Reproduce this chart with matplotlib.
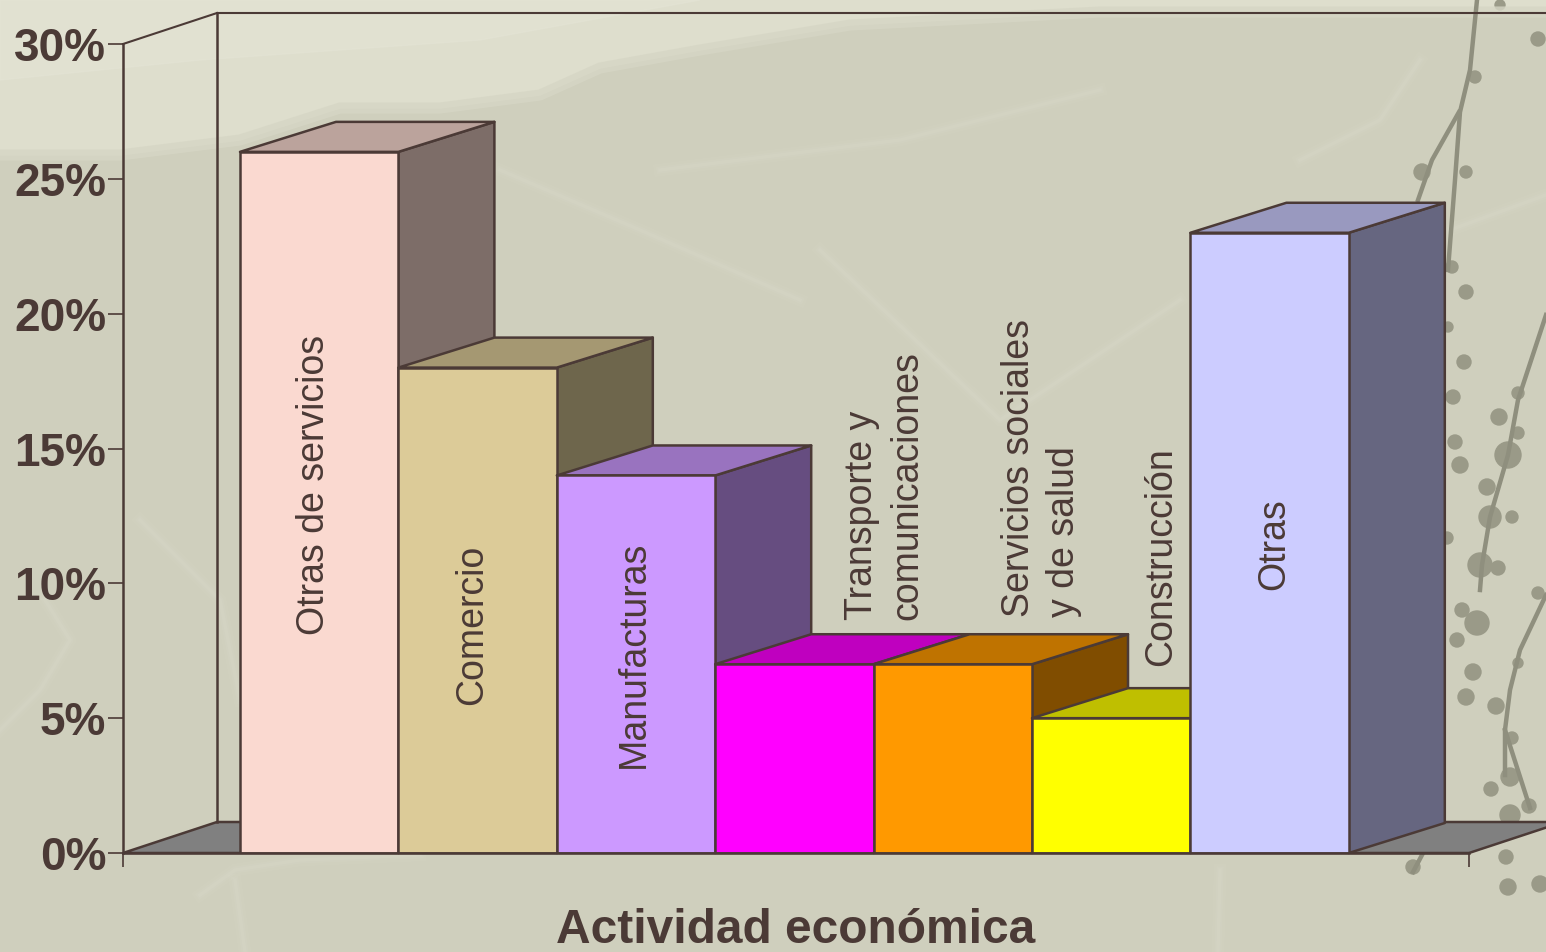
import matplotlib

matplotlib.use("Agg")
import matplotlib.pyplot as plt
from matplotlib.colors import to_rgb
from matplotlib.patches import Polygon

plt.rcParams["font.family"] = ["Liberation Sans", "DejaVu Sans"]

categories = [
    "Otras de servicios",
    "Comercio",
    "Manufacturas",
    "Transporte y\ncomunicaciones",
    "Servicios sociales\ny de salud",
    "Construcción",
    "Otras",
]
shares = [26, 18, 14, 7, 7, 5, 23]
bar_colors = ["#FAD9D0", "#DCCB98", "#CC99FF", "#FF00FF", "#FF9900", "#FFFF00", "#CCCCFF"]
y_ticks = [0, 5, 10, 15, 20, 25, 30]
y_tick_labels = ["0%", "5%", "10%", "15%", "20%", "25%", "30%"]
x_title = "Actividad económica"

INK = "#4B3A36"
W, H = 1546, 952

# layout, in pixels of the reference
PLOT_LEFT, PLOT_RIGHT = 123, 1469
PLOT_TOP, PLOT_BOTTOM = 44, 853
FIRST_BAR = 240
BAR_PX = 158.4
PCT_PX = (PLOT_BOTTOM - PLOT_TOP) / 30
DEPTH_X = 96 / BAR_PX
DEPTH_Y = 30 / PCT_PX
WALL_X = 94 / BAR_PX
WALL_Y = 31 / PCT_PX

# label anchors: horizontal shift in bars from the bar centre, lower end in percent
label_dx = [-0.03, -0.035, -0.015, 0.57, 0.56, 0.315, 0.03]
label_bottom = [8.1, 5.5, 3.15, 8.65, 8.76, 6.93, 9.75]


def shade(color, factor):
    return tuple(c * factor for c in to_rgb(color))


fig = plt.figure(figsize=(W / 100, H / 100), dpi=100)

# paper background, only decoration, drawn in pixels
bg = fig.add_axes([0, 0, 1, 1], zorder=0)
bg.set_xlim(0, W)
bg.set_ylim(H, 0)
bg.axis("off")
bg.add_patch(Polygon([(0, 0), (W, 0), (W, H), (0, H)], color="#CFCFBD"))
ridge = [(0, 155), (120, 155), (240, 140), (340, 108), (440, 108), (540, 95), (600, 68),
         (700, 50), (850, 25), (1100, 12), (1546, 12)]
bg.add_patch(Polygon([(0, 0), (1546, 0)] + ridge[::-1], color="#DEDECD"))
bg.add_patch(Polygon([(0, 0), (700, 0), (480, 40), (200, 60), (0, 80)], color="#E4E4D5", alpha=0.6))
bg.plot([p[0] for p in ridge], [p[1] for p in ridge], color="#D6D6C5", lw=8, alpha=0.8)

streaks = [
    [(0, 730), (40, 690), (70, 640), (45, 600)],
    [(200, 895), (235, 870), (300, 860), (420, 855)],
    [(235, 880), (245, 952)],
    [(500, 170), (640, 230), (800, 300)],
    [(660, 170), (900, 140), (1100, 90)],
    [(1300, 160), (1380, 120), (1420, 60)],
    [(1450, 230), (1546, 195)],
    [(1220, 870), (1218, 952)],
    [(820, 250), (1000, 420), (1180, 300)],
    [(140, 520), (220, 600), (240, 700)],
]
for s in streaks:
    for lw, alpha in [(9, 0.08), (5, 0.1), (2.5, 0.12)]:
        bg.plot([p[0] for p in s], [p[1] for p in s], color="#E3E3D6", lw=lw, alpha=alpha)

stems = [
    [(1477, 0), (1470, 70), (1460, 112), (1455, 180), (1448, 270)],
    [(1459, 112), (1432, 160), (1418, 200)],
    [(1546, 315), (1518, 400), (1508, 455), (1490, 517), (1482, 565), (1480, 590)],
    [(1546, 595), (1520, 650), (1510, 690), (1505, 730), (1505, 775)],
    [(1505, 730), (1530, 808)],
    [(1422, 855), (1413, 872)],
]
for s in stems:
    bg.plot([p[0] for p in s], [p[1] for p in s], color="#8F8F7E", lw=3.2)

dots = [
    (1500, 5, 5), (1538, 39, 7), (1475, 77, 6), (1422, 172, 8), (1466, 172, 6),
    (1452, 267, 6), (1466, 292, 7), (1448, 327, 5), (1464, 362, 7), (1453, 397, 7),
    (1455, 442, 7), (1460, 465, 8), (1499, 417, 8), (1518, 393, 6), (1508, 455, 13),
    (1518, 433, 6), (1487, 487, 8), (1447, 538, 6), (1490, 517, 11), (1512, 517, 6),
    (1480, 565, 12), (1498, 568, 7), (1462, 610, 7), (1477, 623, 12), (1457, 640, 7),
    (1473, 672, 8), (1466, 697, 8), (1496, 706, 8), (1538, 593, 6), (1518, 663, 5),
    (1512, 738, 6), (1510, 777, 9), (1491, 789, 7), (1529, 806, 7), (1510, 815, 10),
    (1506, 857, 7), (1508, 887, 8), (1540, 884, 8), (1413, 867, 7),
]
for x, y, r in dots:
    bg.add_patch(plt.Circle((x, y), r, color="#9A9A88"))

# chart axes, transparent, with percent and bar units
ax = fig.add_axes(
    [PLOT_LEFT / W, 1 - PLOT_BOTTOM / H, (PLOT_RIGHT - PLOT_LEFT) / W, (PLOT_BOTTOM - PLOT_TOP) / H],
    zorder=1,
)
ax.patch.set_alpha(0)
x_min = (PLOT_LEFT - FIRST_BAR) / BAR_PX
x_max = (PLOT_RIGHT - FIRST_BAR) / BAR_PX
ax.set_xlim(x_min, x_max)
ax.set_ylim(0, 30)

for side in ["top", "right"]:
    ax.spines[side].set_visible(False)
for side in ["left", "bottom"]:
    ax.spines[side].set_color(INK)
    ax.spines[side].set_linewidth(1.8)
    ax.spines[side].set_zorder(5)

ax.set_yticks(y_ticks, y_tick_labels, fontsize=33, fontweight="bold", color=INK)
ax.set_xticks([x_min, x_max], ["", ""])
ax.tick_params(axis="y", length=11, width=1.2, color=INK, pad=1)
ax.tick_params(axis="x", length=10, width=1.2, color=INK)
ax.set_xlabel(x_title, fontsize=34.5, fontweight="bold", color=INK, labelpad=26)

# floor and back walls
ax.add_patch(Polygon(
    [(x_min, 0), (x_min + WALL_X, WALL_Y), (x_max + WALL_X, WALL_Y), (x_max, 0)],
    facecolor="#808080", edgecolor=INK, lw=1.8, clip_on=False, zorder=1,
))
ax.plot([x_min, x_min + WALL_X], [30, 30 + WALL_Y], color=INK, lw=1.5, clip_on=False, zorder=1)
ax.plot([x_min + WALL_X, x_min + WALL_X], [WALL_Y, 30 + WALL_Y], color=INK, lw=1.8, clip_on=False, zorder=1)
ax.plot([x_min + WALL_X, x_max + WALL_X], [30 + WALL_Y, 30 + WALL_Y], color=INK, lw=1.5, clip_on=False, zorder=1)

# bars, left to right so each one hides the side of the previous one
for i, (value, color) in enumerate(zip(shares, bar_colors)):
    z = 2 + i * 0.1
    style = dict(edgecolor=INK, lw=1.8, joinstyle="round", clip_on=False, zorder=z)
    ax.add_patch(Polygon(
        [(i + 1, 0), (i + 1 + DEPTH_X, DEPTH_Y), (i + 1 + DEPTH_X, value + DEPTH_Y), (i + 1, value)],
        facecolor=shade(color, 0.5), **style,
    ))
    ax.add_patch(Polygon(
        [(i, value), (i + DEPTH_X, value + DEPTH_Y), (i + 1 + DEPTH_X, value + DEPTH_Y), (i + 1, value)],
        facecolor=shade(color, 0.75), **style,
    ))
    ax.bar(i + 0.5, value, width=1, color=color, edgecolor=INK, linewidth=1.8, zorder=z)

for i, label in enumerate(categories):
    ax.text(
        i + 0.5 + label_dx[i], label_bottom[i], label,
        rotation=90, ha="center", va="bottom", multialignment="left",
        fontsize=27, color=INK, linespacing=1.32, zorder=4,
    )

fig.savefig("out.png", dpi=100)
